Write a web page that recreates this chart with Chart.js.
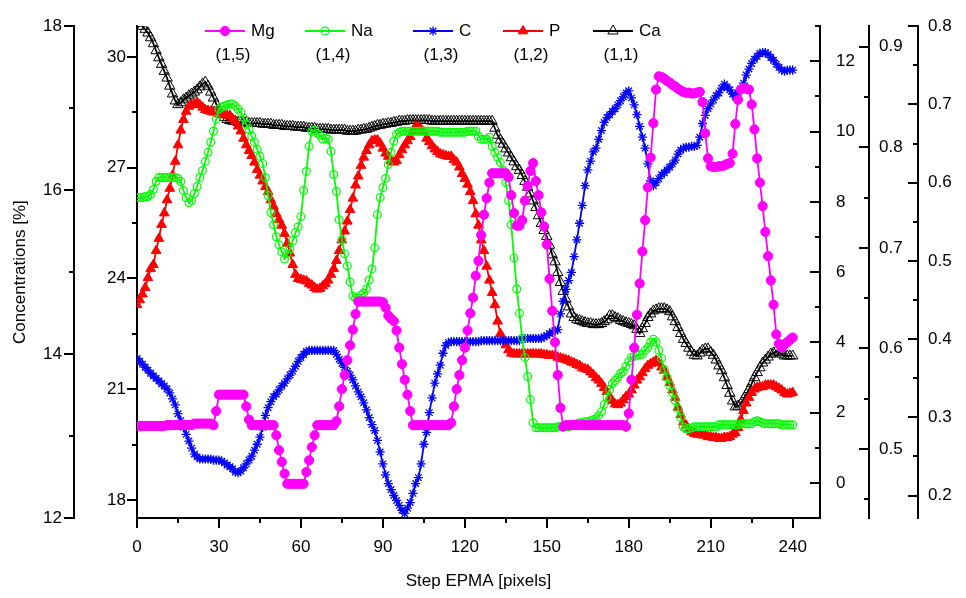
<!DOCTYPE html>
<html>
<head>
<meta charset="utf-8">
<title>EPMA profile</title>
<script src="https://cdn.jsdelivr.net/npm/chart.js@4.4.1/dist/chart.umd.min.js"></script>
<style>
  html, body { margin: 0; padding: 0; background: #fff; }
  #wrap { width: 966px; height: 598px; }
</style>
</head>
<body>
<div id="wrap"><canvas id="chartEpma"></canvas></div>
<script>
// ── Data (values read from the profile, one per EPMA step 0..240) ──
const seriesNames = ['Mg', 'Na', 'C', 'P', 'Ca'];
const layerLabels = ['(1,5)', '(1,4)', '(1,3)', '(1,2)', '(1,1)'];

const mg = [
  0.289,0.289,0.289,0.289,0.289,0.289,0.289,0.289,0.289,0.289,
  0.289,0.290,0.290,0.290,0.290,0.290,0.290,0.290,0.290,0.290,
  0.290,0.292,0.292,0.292,0.292,0.292,0.292,0.292,0.290,0.308,
  0.329,0.329,0.329,0.329,0.329,0.329,0.329,0.329,0.329,0.329,
  0.314,0.297,0.290,0.290,0.290,0.290,0.290,0.290,0.290,0.290,
  0.290,0.277,0.258,0.243,0.228,0.215,0.215,0.215,0.215,0.215,
  0.215,0.215,0.230,0.245,0.262,0.277,0.290,0.290,0.290,0.290,
  0.290,0.290,0.290,0.295,0.314,0.336,0.354,0.373,0.392,0.412,
  0.432,0.448,0.448,0.448,0.448,0.448,0.448,0.448,0.448,0.448,
  0.447,0.440,0.430,0.426,0.423,0.411,0.389,0.368,0.348,0.329,
  0.308,0.290,0.290,0.290,0.290,0.290,0.290,0.290,0.290,0.290,
  0.290,0.290,0.290,0.290,0.290,0.293,0.314,0.336,0.354,0.373,
  0.389,0.411,0.433,0.453,0.481,0.500,0.533,0.559,0.580,0.600,
  0.612,0.612,0.612,0.612,0.612,0.612,0.607,0.584,0.561,0.545,
  0.545,0.552,0.577,0.596,0.615,0.625,0.602,0.584,0.562,0.544,
  0.521,0.477,0.436,0.396,0.354,0.312,0.288,0.290,0.290,0.290,
  0.290,0.290,0.290,0.290,0.290,0.290,0.290,0.290,0.290,0.290,
  0.290,0.290,0.290,0.290,0.290,0.290,0.290,0.290,0.290,0.288,
  0.305,0.348,0.389,0.431,0.471,0.512,0.552,0.594,0.632,0.676,
  0.719,0.736,0.735,0.733,0.730,0.728,0.725,0.723,0.720,0.718,
  0.716,0.715,0.715,0.714,0.714,0.715,0.716,0.703,0.663,0.631,
  0.621,0.620,0.620,0.621,0.621,0.622,0.624,0.625,0.637,0.675,
  0.706,0.719,0.721,0.720,0.719,0.700,0.668,0.631,0.600,0.570,
  0.537,0.506,0.475,0.444,0.406,0.394,0.389,0.393,0.396,0.399,
  0.402
];

const na = [
  0.750,0.750,0.750,0.751,0.751,0.753,0.758,0.766,0.770,0.770,
  0.770,0.770,0.770,0.770,0.770,0.769,0.766,0.757,0.750,0.745,
  0.747,0.754,0.761,0.770,0.777,0.786,0.795,0.805,0.816,0.828,
  0.838,0.840,0.841,0.842,0.843,0.843,0.841,0.838,0.835,0.829,
  0.823,0.818,0.811,0.805,0.798,0.791,0.784,0.770,0.752,0.735,
  0.723,0.711,0.703,0.696,0.689,0.694,0.699,0.707,0.715,0.721,
  0.731,0.757,0.776,0.801,0.816,0.817,0.814,0.812,0.808,0.809,
  0.808,0.796,0.773,0.756,0.728,0.708,0.694,0.682,0.666,0.652,
  0.650,0.650,0.653,0.655,0.659,0.668,0.679,0.700,0.733,0.750,
  0.760,0.769,0.783,0.795,0.806,0.813,0.815,0.816,0.816,0.816,
  0.816,0.816,0.816,0.816,0.816,0.816,0.816,0.816,0.816,0.816,
  0.816,0.815,0.815,0.815,0.815,0.815,0.815,0.815,0.815,0.815,
  0.815,0.816,0.816,0.816,0.816,0.811,0.808,0.808,0.808,0.810,
  0.801,0.795,0.790,0.785,0.777,0.765,0.747,0.723,0.690,0.659,
  0.635,0.610,0.591,0.572,0.549,0.526,0.521,0.521,0.521,0.521,
  0.521,0.521,0.521,0.521,0.522,0.522,0.522,0.522,0.522,0.523,
  0.524,0.525,0.526,0.526,0.527,0.527,0.528,0.529,0.530,0.533,
  0.537,0.544,0.551,0.559,0.565,0.568,0.571,0.575,0.577,0.582,
  0.587,0.591,0.592,0.593,0.594,0.594,0.598,0.601,0.606,0.609,
  0.606,0.598,0.590,0.579,0.571,0.563,0.556,0.548,0.540,0.531,
  0.522,0.520,0.520,0.521,0.522,0.522,0.522,0.522,0.522,0.522,
  0.522,0.522,0.522,0.524,0.524,0.524,0.524,0.524,0.524,0.524,
  0.524,0.525,0.525,0.525,0.525,0.525,0.527,0.528,0.527,0.526,
  0.525,0.525,0.525,0.525,0.525,0.525,0.524,0.524,0.524,0.524,
  0.524
];

const carbon = [
  3.54,3.46,3.38,3.29,3.21,3.12,3.04,2.98,2.90,2.82,
  2.76,2.67,2.56,2.39,2.22,1.97,1.78,1.58,1.38,1.19,
  0.99,0.82,0.74,0.68,0.68,0.68,0.68,0.68,0.65,0.65,
  0.65,0.62,0.57,0.51,0.46,0.40,0.31,0.29,0.34,0.43,
  0.54,0.65,0.76,0.93,1.10,1.30,1.58,1.92,2.14,2.31,
  2.45,2.53,2.65,2.76,2.84,2.96,3.07,3.18,3.32,3.46,
  3.57,3.66,3.74,3.77,3.77,3.77,3.77,3.77,3.77,3.77,
  3.77,3.77,3.77,3.66,3.52,3.40,3.29,3.18,3.07,2.93,
  2.76,2.59,2.45,2.28,2.08,1.86,1.66,1.49,1.21,0.88,
  0.54,0.23,-0.02,-0.19,-0.36,-0.50,-0.64,-0.78,-0.87,-0.72,
  -0.56,-0.30,-0.02,0.15,0.54,1.10,1.44,2.00,2.42,2.84,
  3.10,3.35,3.69,3.91,4.00,4.02,4.02,4.02,4.02,4.02,
  4.02,4.02,4.02,4.02,4.02,4.02,4.05,4.05,4.05,4.05,
  4.05,4.05,4.05,4.05,4.05,4.05,4.05,4.05,4.05,4.05,
  4.05,4.11,4.11,4.11,4.11,4.11,4.11,4.11,4.11,4.16,
  4.19,4.25,4.30,4.33,4.36,4.81,5.17,5.51,5.76,5.99,
  6.44,6.92,7.39,7.90,8.46,8.91,9.16,9.42,9.53,9.78,
  10.03,10.26,10.40,10.48,10.57,10.65,10.76,10.88,10.99,11.10,
  11.16,10.96,10.76,10.48,10.15,9.84,9.53,9.08,8.60,8.46,
  8.55,8.66,8.77,8.83,8.91,8.99,9.08,9.19,9.36,9.47,
  9.53,9.56,9.56,9.58,9.58,9.61,9.84,10.23,10.46,10.65,
  10.79,10.90,11.02,11.10,11.24,11.35,11.27,11.19,11.07,10.99,
  11.10,11.21,11.38,11.61,11.78,11.94,12.06,12.14,12.23,12.25,
  12.25,12.20,12.11,12.03,11.92,11.83,11.75,11.72,11.75,11.75,
  11.75
];

const phos = [
  14.60,14.66,14.73,14.81,14.93,15.04,15.09,15.26,15.41,15.58,
  15.72,15.88,16.02,16.18,16.35,16.55,16.73,16.86,16.96,17.02,
  17.04,17.05,17.07,17.04,17.01,16.98,16.97,16.96,16.95,16.95,
  16.93,16.93,16.92,16.91,16.91,16.87,16.84,16.78,16.72,16.63,
  16.55,16.48,16.42,16.34,16.25,16.18,16.11,16.04,15.98,15.88,
  15.80,15.71,15.64,15.57,15.47,15.35,15.23,15.09,14.97,14.92,
  14.91,14.90,14.89,14.86,14.84,14.81,14.79,14.80,14.83,14.86,
  14.90,14.97,15.04,15.14,15.26,15.39,15.50,15.62,15.76,15.90,
  16.06,16.17,16.30,16.40,16.48,16.55,16.60,16.61,16.61,16.57,
  16.51,16.45,16.41,16.36,16.34,16.36,16.43,16.49,16.55,16.60,
  16.65,16.72,16.78,16.78,16.74,16.71,16.63,16.59,16.54,16.50,
  16.47,16.44,16.43,16.42,16.41,16.41,16.37,16.34,16.28,16.20,
  16.14,16.07,15.98,15.87,15.71,15.57,15.39,15.26,15.07,14.90,
  14.75,14.60,14.40,14.25,14.18,14.11,14.05,14.01,14.00,14.00,
  14.00,14.00,14.00,14.00,14.00,14.00,14.00,14.00,14.00,13.99,
  13.99,13.98,13.98,13.98,13.96,13.95,13.94,13.93,13.92,13.90,
  13.89,13.87,13.86,13.83,13.82,13.81,13.78,13.75,13.71,13.68,
  13.64,13.59,13.54,13.47,13.43,13.39,13.38,13.40,13.44,13.48,
  13.51,13.56,13.62,13.68,13.72,13.77,13.82,13.86,13.88,13.90,
  13.92,13.89,13.84,13.80,13.72,13.65,13.56,13.47,13.35,13.26,
  13.17,13.13,13.08,13.05,13.03,13.02,13.02,13.01,13.01,12.99,
  12.99,12.98,12.98,12.97,12.97,12.98,12.98,12.99,13.02,13.04,
  13.10,13.20,13.31,13.40,13.47,13.53,13.57,13.59,13.60,13.60,
  13.62,13.62,13.62,13.62,13.60,13.58,13.56,13.53,13.51,13.52,
  13.53
];

const calcium = [
  30.97,30.91,30.83,30.75,30.65,30.52,30.36,30.17,29.98,29.80,
  29.61,29.43,29.21,29.00,28.81,28.71,28.76,28.84,28.89,28.95,
  29.00,29.05,29.11,29.19,29.27,29.32,29.21,29.05,28.89,28.73,
  28.57,28.44,28.36,28.31,28.28,28.26,28.26,28.23,28.23,28.23,
  28.23,28.20,28.20,28.20,28.20,28.20,28.18,28.18,28.18,28.18,
  28.15,28.15,28.15,28.15,28.12,28.12,28.12,28.12,28.10,28.10,
  28.10,28.10,28.07,28.07,28.07,28.07,28.04,28.04,28.04,28.04,
  28.04,28.02,28.02,28.02,28.02,28.02,28.02,27.99,27.99,27.99,
  27.99,28.02,28.02,28.04,28.04,28.07,28.10,28.12,28.15,28.15,
  28.18,28.18,28.20,28.20,28.23,28.23,28.26,28.26,28.26,28.28,
  28.28,28.28,28.28,28.28,28.28,28.28,28.28,28.28,28.26,28.26,
  28.26,28.26,28.26,28.26,28.26,28.26,28.26,28.26,28.26,28.26,
  28.26,28.26,28.26,28.26,28.26,28.26,28.26,28.26,28.26,28.26,
  28.26,28.07,27.88,27.75,27.64,27.51,27.40,27.27,27.16,27.03,
  26.93,26.79,26.63,26.47,26.29,26.10,25.92,25.70,25.49,25.30,
  25.14,24.90,24.64,24.45,24.16,23.89,23.65,23.44,23.23,23.04,
  22.94,22.88,22.86,22.83,22.80,22.78,22.78,22.75,22.75,22.75,
  22.78,22.83,22.88,22.99,22.99,22.94,22.91,22.86,22.83,22.80,
  22.78,22.75,22.72,22.62,22.51,22.64,22.78,22.94,23.04,23.12,
  23.15,23.18,23.18,23.18,23.15,23.10,22.96,22.83,22.67,22.51,
  22.35,22.24,22.11,22.00,21.92,21.90,21.98,22.06,22.09,22.09,
  22.00,21.92,21.79,21.63,21.50,21.31,21.10,20.89,20.68,20.52,
  20.54,20.60,20.73,20.86,20.99,21.15,21.31,21.45,21.58,21.71,
  21.79,21.87,21.95,21.98,22.03,22.00,21.95,21.90,21.90,21.90,
  21.90
];

// step index of every reading
const steps = Array.from({ length: mg.length }, (_, i) => i);

// ── Axes: ranges and tick labels ──
const xRange  = [0, 250];
const xTicks  = [0, 30, 60, 90, 120, 150, 180, 210, 240];
const xMinor  = [15, 45, 75, 105, 135, 165, 195, 225];

const pRange  = [12, 18];
const pTicks  = [12, 14, 16, 18];
const pMinor  = [13, 15, 17];

const caRange = [17.51, 30.835];
const caTicks = [18, 21, 24, 27, 30];
const caMinor = [19.5, 22.5, 25.5, 28.5];

const cRange  = [-1, 13];
const cTicks  = [0, 2, 4, 6, 8, 10, 12];
const cMinor  = [-1, 1, 3, 5, 7, 9, 11, 13];

const naRange = [0.4312, 0.9205];
const naTicks = [0.5, 0.6, 0.7, 0.8, 0.9];
const naMinor = [0.45, 0.55, 0.65, 0.75, 0.85];

const mgRange = [0.1713, 0.8];
const mgTicks = [0.2, 0.3, 0.4, 0.5, 0.6, 0.7, 0.8];
const mgMinor = [0.25, 0.35, 0.45, 0.55, 0.65, 0.75];

// ── Look ──
const chartFont = "'Liberation Sans', Arial, Helvetica, sans-serif";
Chart.defaults.font.family = chartFont;
Chart.defaults.font.size = 17;
Chart.defaults.color = '#000';

const tickSets = {
  x:    { major: xTicks,  minor: xMinor },
  yP:   { major: pTicks,  minor: pMinor },
  yCa:  { major: caTicks, minor: caMinor },
  yC:   { major: cTicks,  minor: cMinor },
  yNa:  { major: naTicks, minor: naMinor },
  yMg:  { major: mgTicks, minor: mgMinor }
};

function fixTicks(values) {
    return function(scale) { scale.ticks = values.map(function(v) { return { value: v }; }); };
}
function fixWidth(w) {
    return function(scale) { scale.width = w; };
}
function series(values) {
    return values.map(function(v, i) { return { x: steps[i], y: v }; });
}

function yAxis(range, ticks, pos, weight, width, pad, digits) {
    return {
        type: 'linear',
        position: pos,
        weight: weight,
        min: range[0],
        max: range[1],
        afterBuildTicks: fixTicks(ticks),
        afterFit: fixWidth(width),
        grid: { display: false, drawTicks: false },
        border: { display: true, color: '#000', width: 2 },
        ticks: {
            padding: pad,
            autoSkip: false,
            callback: function(v) { return digits ? Number(v).toFixed(digits) : String(v); }
        }
    };
}

// tick marks (major + minor) drawn on the library scales
const tickMarks = {
    id: 'tickMarks',
    afterDraw(chart) {
        const ctx = chart.ctx;
        ctx.save();
        ctx.strokeStyle = '#000';
        ctx.lineWidth = 2;
        Object.keys(tickSets).forEach(function(id) {
            const scale = chart.scales[id];
            if (!scale) return;
            [[tickSets[id].major, 10], [tickSets[id].minor, 5]].forEach(function(pair) {
                pair[0].forEach(function(v) {
                    const p = Math.round(scale.getPixelForValue(v));
                    ctx.beginPath();
                    if (scale.isHorizontal()) {
                        ctx.moveTo(p, scale.top);
                        ctx.lineTo(p, scale.top + pair[1]);
                    } else {
                        const edge = scale.position === 'left' ? scale.right : scale.left;
                        ctx.moveTo(edge, p);
                        ctx.lineTo(edge - pair[1], p);
                    }
                    ctx.stroke();
                });
            });
        });
        ctx.restore();
    }
};

// legend inside the plot, with the layer label under each entry
const legendLeft = [205, 305, 413, 503, 593];
const seriesLegend = {
    id: 'seriesLegend',
    afterDraw(chart) {
        const ctx = chart.ctx;
        ctx.save();
        ctx.font = '17px ' + chartFont;
        ctx.textBaseline = 'middle';
        chart.data.datasets.forEach(function(ds, i) {
            const x0 = legendLeft[i];
            const y0 = 31;
            ctx.strokeStyle = ds.borderColor;
            ctx.lineWidth = ds.borderWidth;
            ctx.beginPath();
            ctx.moveTo(x0, y0);
            ctx.lineTo(x0 + 40, y0);
            ctx.stroke();
            ctx.fillStyle = ds.pointBackgroundColor;
            ctx.strokeStyle = ds.pointBorderColor;
            ctx.lineWidth = ds.pointBorderWidth;
            if (Chart.helpers && Chart.helpers.drawPoint) {
                Chart.helpers.drawPoint(ctx, {
                    pointStyle: ds.pointStyle, rotation: 0,
                    radius: ds.pointRadius, borderWidth: ds.pointBorderWidth
                }, x0 + 20, y0);
            }
            ctx.fillStyle = '#000';
            ctx.textAlign = 'left';
            ctx.fillText(ds.label, x0 + 46, y0);
            ctx.textAlign = 'center';
            ctx.fillText(layerLabels[i], x0 + 28, 55);
        });
        ctx.restore();
    }
};

function makeSet(label, values, axis, color, style, radius, filled, bw) {
    return {
        label: label,
        data: series(values),
        yAxisID: axis,
        borderColor: color,
        borderWidth: 1.8,
        pointStyle: style,
        pointRadius: radius,
        pointBorderColor: color,
        pointBackgroundColor: filled ? color : 'rgba(0,0,0,0)',
        pointBorderWidth: bw,
        tension: 0,
        fill: false
    };
}

new Chart(document.getElementById('chartEpma'), {
    type: 'line',
    data: {
        datasets: [
            makeSet(seriesNames[0], mg,      'yMg', '#ff00ff', 'circle',   4.6, true,  1),
            makeSet(seriesNames[1], na,      'yNa', '#00ff00', 'circle',   3.9, false, 1.2),
            makeSet(seriesNames[2], carbon,  'yC',  '#0000ff', 'star',     4.6, false, 1.3),
            makeSet(seriesNames[3], phos,    'yP',  '#ff0000', 'triangle', 5.6, true,  1),
            makeSet(seriesNames[4], calcium, 'yCa', '#000000', 'triangle', 6,   false, 1)
        ]
    },
    options: {
        responsive: true,
        maintainAspectRatio: false,
        animation: false,
        events: [],
        layout: { padding: { top: 17, left: 0, right: 0, bottom: 0 } },
        plugins: {
            legend: { display: false },
            tooltip: { enabled: false }
        },
        scales: {
            x: {
                type: 'linear',
                position: 'bottom',
                min: xRange[0],
                max: xRange[1],
                afterBuildTicks: fixTicks(xTicks),
                afterFit: function(s) { s.height = 80; },
                grid: { display: false, drawTicks: false },
                border: { display: true, color: '#000', width: 2 },
                ticks: { padding: 19, autoSkip: false, maxRotation: 0, callback: function(v) { return String(v); } },
                title: { display: true, text: 'Step EPMA [pixels]', padding: { top: 0, bottom: 6 } }
            },
            yP: Object.assign(yAxis(pRange, pTicks, 'left', 1, 74, 12, 0), {
                title: { display: true, text: 'Concentrations [%]', padding: { top: 10, bottom: 0 } }
            }),
            yCa: yAxis(caRange, caTicks, 'left', 0, 63, 11, 0),
            yC:  yAxis(cRange,  cTicks,  'right', 0, 49, 16, 0),
            yNa: yAxis(naRange, naTicks, 'right', 1, 49, 10, 1),
            yMg: yAxis(mgRange, mgTicks, 'right', 2, 48, 10, 1)
        }
    },
    plugins: [tickMarks, seriesLegend]
});
</script>
</body>
</html>
